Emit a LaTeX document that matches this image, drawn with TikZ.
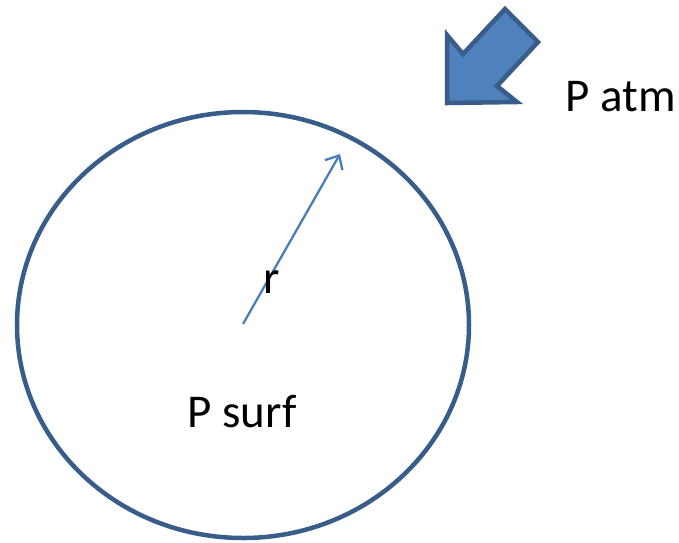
\documentclass[tikz,border=0pt]{standalone}
\usepackage{fontspec}
\setmainfont{Carlito}
\usetikzlibrary{arrows.meta,shapes.geometric}
\definecolor{outl}{HTML}{385D8A}
\definecolor{fillb}{HTML}{4F81BD}
\definecolor{linec}{HTML}{4A7EBB}
\tikzset{
  lbl/.style={inner sep=0pt, font=\fontsize{47}{56}\selectfont, text=black},
}
\begin{document}
\begin{tikzpicture}[x=1pt,y=-1pt]
\useasboundingbox (0,0) rectangle (679,542);
% circle
\node[draw=outl, line width=4.5pt, ellipse, minimum width=452pt, minimum height=426pt, inner sep=0pt] (earth) at (243,325) {};
% radius arrow
\coordinate (c) at (243,324);
\coordinate (rt) at (340,154);
\draw[linec, line width=2.3pt, -{Straight Barb[length=11pt,width=20pt,line width=2.3pt]}] (c) -- (rt);
\node[lbl] (r) at (272,282) {r};
\node[lbl] (ps) at (242,412) {P surf};
\node[lbl] (pa) at (621,97) {P atm};
% block arrow
\draw[draw=outl, fill=fillb, line width=4.5pt, line join=miter]
  (447,35) -- (463,54) -- (505,9) -- (538,42) -- (497,86) -- (517,102) -- (447,103) -- cycle;
\end{tikzpicture}
\end{document}
